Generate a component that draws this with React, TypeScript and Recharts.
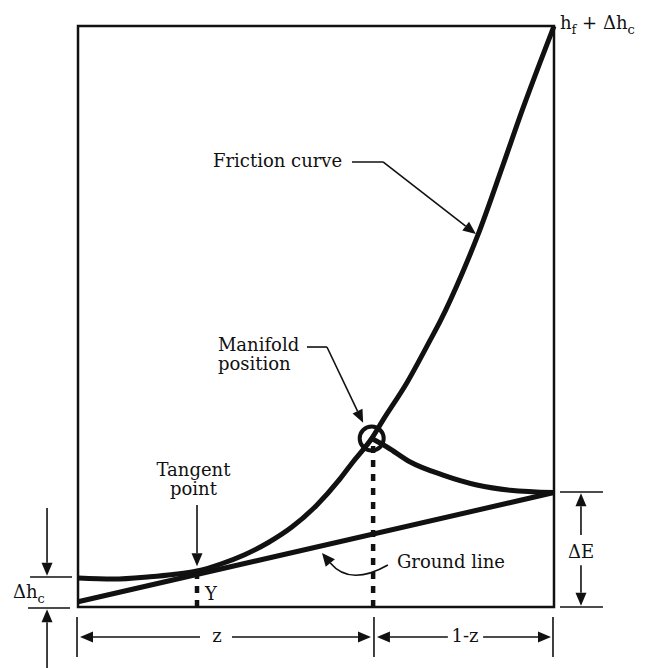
import React from 'react';
import { LineChart, Line, XAxis, YAxis, ReferenceArea, ReferenceLine, ReferenceDot } from 'recharts';

// x: position along the lateral (0 = inlet end, 1 = far end), y: relative head (box top = 100)
const frictionX = [0, 0.074, 0.151, 0.2, 0.25, 0.3, 0.35, 0.4, 0.45, 0.5, 0.55, 0.578, 0.617, 0.641, 0.691, 0.739, 0.761, 0.809, 0.84, 0.893, 0.935, 0.971, 1.0];
const frictionY = [5.0, 4.8, 5.2, 5.6, 6.2, 7.4, 9.0, 11.1, 13.8, 17.4, 22.0, 25.0, 29.0, 32.2, 38.6, 45.8, 49.2, 57.8, 64.0, 76.1, 85.9, 93.8, 100];

const branchX = [0.617, 0.65, 0.697, 0.767, 0.838, 0.908, 1.0];
const branchY = [29.0, 27.5, 25.0, 22.7, 21.0, 20.1, 19.7];

const groundX = [0, 1];
const groundY = [0.9, 19.7];

const tangentX = 0.25;
const manifoldX = 0.62;
const manifoldPoint = { x: 0.617, y: 29.0 };

const X_DOMAIN: [number, number] = [-0.1639, 1.1912];
const Y_DOMAIN: [number, number] = [-10.5, 104.48];

const toRows = (xs: number[], ys: number[]) => xs.map((x, i) => ({ x, y: ys[i] }));
const frictionData = toRows(frictionX, frictionY);
const branchData = toRows(branchX, branchY);
const groundData = toRows(groundX, groundY);

// [x1, y1, x2, y2, arrowAtEnd]
type Seg = [number, number, number, number, boolean];

const leaders: Seg[] = [
  [0.5756, 76.6, 0.6408, 76.6, false],
  [0.6408, 76.6, 0.836, 64.2, true],
  [0.481, 44.75, 0.523, 44.75, false],
  [0.523, 44.75, 0.599, 31.7, true],
  [0.25, 17.56, 0.25, 7.0, true],
];

const dims: Seg[] = [
  // delta h_c
  [-0.1008, 5.16, -0.0126, 5.16, false],
  [-0.105, -0.17, -0.0168, -0.17, false],
  [-0.0651, 17.04, -0.0651, 5.4, true],
  [-0.0651, -10.5, -0.0651, -0.4, true],
  // delta E
  [1.0126, 19.79, 1.1029, 19.79, false],
  [1.0126, 0, 1.1029, 0, false],
  [1.0567, 12.4, 1.0567, 19.6, true],
  [1.0567, 7.2, 1.0567, 0.2, true],
  // z and 1-z
  [-0.0021, -1.72, -0.0021, -8.61, false],
  [0.6218, -1.72, 0.6218, -8.61, false],
  [0.9979, -1.72, 0.9979, -8.61, false],
  [0.2563, -5.16, 0.0042, -5.16, true],
  [0.3235, -5.16, 0.6155, -5.16, true],
  [0.777, -5.16, 0.628, -5.16, true],
  [0.851, -5.16, 0.9937, -5.16, true],
];

const groundPointer: [number, number, number, number] = [0.651, 7.23, 0.5126, 9.29];

type Part = { t: string; sub?: boolean };
type Lbl = { x: number; y: number; anchor: 'start' | 'middle' | 'end'; parts: Part[] };

const labels: Lbl[] = [
  { x: 0.2836, y: 75.7, anchor: 'start', parts: [{ t: 'Friction curve' }] },
  { x: 0.294, y: 44.1, anchor: 'start', parts: [{ t: 'Manifold' }] },
  { x: 0.294, y: 40.8, anchor: 'start', parts: [{ t: 'position' }] },
  { x: 0.2426, y: 22.55, anchor: 'middle', parts: [{ t: 'Tangent' }] },
  { x: 0.2426, y: 19.2, anchor: 'middle', parts: [{ t: 'point' }] },
  { x: 0.267, y: 1.2, anchor: 'start', parts: [{ t: 'Y' }] },
  { x: 0.67, y: 6.7, anchor: 'start', parts: [{ t: 'Ground line' }] },
  { x: 1.0567, y: 8.43, anchor: 'middle', parts: [{ t: 'ΔE' }] },
  { x: 0.292, y: -6.02, anchor: 'middle', parts: [{ t: 'z' }] },
  { x: 0.813, y: -6.02, anchor: 'middle', parts: [{ t: '1-z' }] },
  { x: -0.1366, y: 1.55, anchor: 'start', parts: [{ t: 'Δh' }, { t: 'c', sub: true }] },
  { x: 1.0126, y: 99.5, anchor: 'start', parts: [{ t: 'h' }, { t: 'f', sub: true }, { t: ' + Δh' }, { t: 'c', sub: true }] },
];

const FONT = '"DejaVu Serif", serif';
const INK = '#111';
const SIZE = 18;

const head = (x1: number, y1: number, x2: number, y2: number, len = 13, half = 5.5) => {
  const dx = x2 - x1;
  const dy = y2 - y1;
  const L = Math.hypot(dx, dy) || 1;
  const ux = dx / L;
  const uy = dy / L;
  const bx = x2 - ux * len;
  const by = y2 - uy * len;
  return {
    bx,
    by,
    pts: `${x2},${y2} ${bx - uy * half},${by + ux * half} ${bx + uy * half},${by - ux * half}`,
  };
};

const arrowShape = (withHead: boolean, width: number) => (p: any) => {
  const { x1, y1, x2, y2 } = p;
  if (!withHead) return <line x1={x1} y1={y1} x2={x2} y2={y2} stroke={INK} strokeWidth={width} />;
  const h = head(x1, y1, x2, y2);
  return (
    <g>
      <line x1={x1} y1={y1} x2={h.bx} y2={h.by} stroke={INK} strokeWidth={width} />
      <polygon points={h.pts} fill={INK} />
    </g>
  );
};

const curvedArrow = (p: any) => {
  const { x1, y1, x2, y2 } = p;
  const mx = (x1 + x2) / 2;
  const my = (y1 + y2) / 2;
  const dx = x2 - x1;
  const dy = y2 - y1;
  const L = Math.hypot(dx, dy) || 1;
  const cx = mx + (dy / L) * 28;
  const cy = my - (dx / L) * 28;
  const h = head(cx, cy, x2, y2, 13, 6);
  return (
    <g>
      <path d={`M${x1},${y1} Q${cx},${cy} ${h.bx},${h.by}`} fill="none" stroke={INK} strokeWidth={1.6} />
      <polygon points={h.pts} fill={INK} />
    </g>
  );
};

const textShape = (lbl: Lbl) => (p: any) => {
  let shift = 0;
  return (
    <text x={p.cx} y={p.cy} textAnchor={lbl.anchor} fontFamily={FONT} fontSize={SIZE} fill={INK}>
      {lbl.parts.map((part, i) => {
        const target = part.sub ? 5 : 0;
        const dy = target - shift;
        shift = target;
        return (
          <tspan key={i} dy={dy} fontSize={part.sub ? 13 : SIZE}>
            {part.t}
          </tspan>
        );
      })}
    </text>
  );
};

export default function App() {
  return (
    <div style={{ position: 'absolute', left: 0, top: 0, width: 645, height: 668, background: '#fff' }}>
      <LineChart width={645} height={668} margin={{ top: 0, right: 0, bottom: 0, left: 0 }}>
        <XAxis type="number" dataKey="x" domain={X_DOMAIN} allowDataOverflow hide />
        <YAxis type="number" dataKey="y" domain={Y_DOMAIN} allowDataOverflow hide />
        <ReferenceArea x1={0} x2={1} y1={0} y2={100} fill="none" stroke={INK} strokeWidth={2.5} ifOverflow="visible" />
        <ReferenceLine
          segment={[{ x: tangentX, y: 0 }, { x: tangentX, y: 5.8 }]}
          stroke={INK}
          strokeWidth={4.5}
          strokeDasharray="7 7"
          ifOverflow="visible"
        />
        <ReferenceLine
          segment={[{ x: manifoldX, y: 0 }, { x: manifoldX, y: 28 }]}
          stroke={INK}
          strokeWidth={4.5}
          strokeDasharray="7 7"
          ifOverflow="visible"
        />
        <Line data={groundData} dataKey="y" type="linear" stroke={INK} strokeWidth={5} dot={false} activeDot={false} isAnimationActive={false} />
        <Line data={frictionData} dataKey="y" type="monotone" stroke={INK} strokeWidth={5} dot={false} activeDot={false} isAnimationActive={false} />
        <Line data={branchData} dataKey="y" type="monotone" stroke={INK} strokeWidth={5} dot={false} activeDot={false} isAnimationActive={false} />
        <ReferenceDot
          x={manifoldPoint.x}
          y={manifoldPoint.y}
          r={12}
          fill="none"
          stroke={INK}
          strokeWidth={4}
          ifOverflow="visible"
        />
        {[...leaders, ...dims].map((s, i) => (
          <ReferenceLine
            key={`seg-${i}`}
            segment={[{ x: s[0], y: s[1] }, { x: s[2], y: s[3] }]}
            ifOverflow="visible"
            shape={arrowShape(s[4], 1.6)}
          />
        ))}
        <ReferenceLine
          segment={[{ x: groundPointer[0], y: groundPointer[1] }, { x: groundPointer[2], y: groundPointer[3] }]}
          ifOverflow="visible"
          shape={curvedArrow}
        />
        {labels.map((l, i) => (
          <ReferenceDot key={`lbl-${i}`} x={l.x} y={l.y} r={1} ifOverflow="visible" shape={textShape(l)} />
        ))}
      </LineChart>
    </div>
  );
}
